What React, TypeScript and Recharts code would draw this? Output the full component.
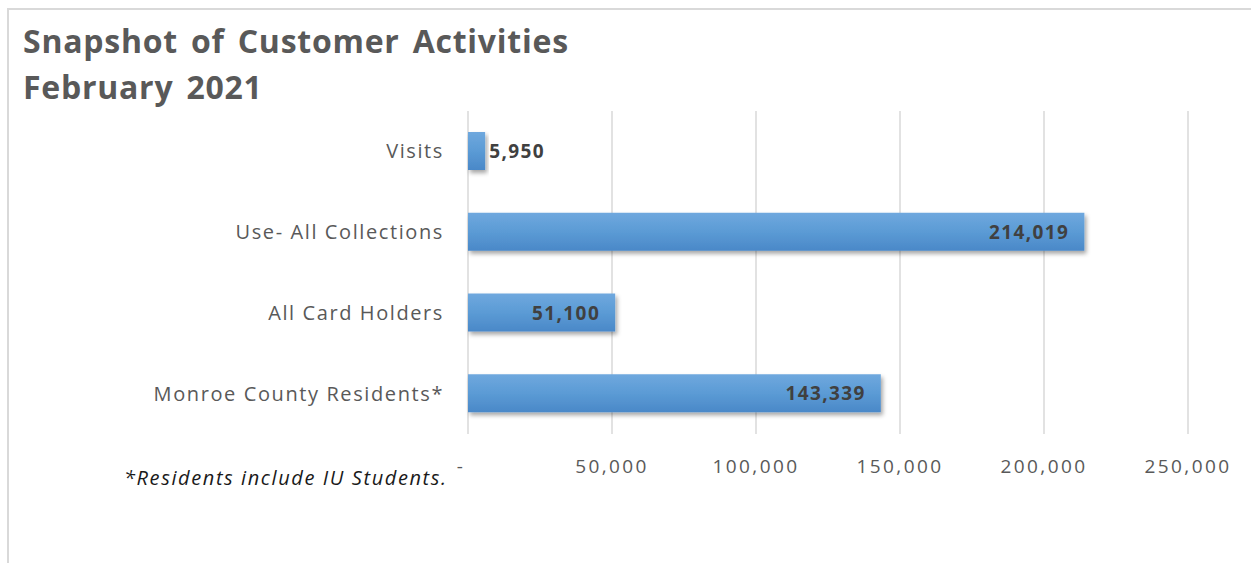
import React from 'react';
import { BarChart, Bar, XAxis, YAxis, CartesianGrid, LabelList } from 'recharts';

const categories = ['Visits', 'Use- All Collections ', 'All Card Holders', 'Monroe County Residents*'];
const values = [5950, 214019, 51100, 143339];
const xTicks = [0, 50000, 100000, 150000, 200000, 250000];

const data = categories.map((c, i) => ({ name: c, value: values[i] }));

const FONT = '"Open Sans", Calibri, sans-serif';
const GREY = '#595959';

const fmt = (v: number) => v.toLocaleString('en-US');

const XTick = (props: any) => {
  const { x, y, payload } = props;
  const v = payload.value as number;
  return (
    <text
      x={v === 0 ? x - 7 : x}
      y={y + 31}
      textAnchor="middle"
      fill={GREY}
      fontSize={19}
      fontFamily={FONT}
      letterSpacing={2.4}
    >
      {v === 0 ? '-' : fmt(v)}
    </text>
  );
};

const YTick = (props: any) => {
  const { x, y, payload } = props;
  return (
    <text
      x={x}
      y={y + 7}
      textAnchor="end"
      fill={GREY}
      fontSize={20}
      fontFamily={FONT}
      letterSpacing={1.6}
    >
      {payload.value}
    </text>
  );
};

const ValueLabel = (props: any) => {
  const { x, y, width, height, value } = props;
  const small = value < 20000;
  return (
    <text
      x={small ? x + width + 4 : x + width - 15}
      y={y + height / 2 + 7}
      textAnchor={small ? 'start' : 'end'}
      fill="#404040"
      fontSize={19}
      fontWeight="bold"
      fontFamily={FONT}
      letterSpacing={1.4}
    >
      {fmt(value)}
    </text>
  );
};

export default function App() {
  return (
    <div style={{ position: 'relative', width: 1251, height: 563, background: '#fff', overflow: 'hidden' }}>
      <style>{'body{margin:0;}'}</style>
      <div style={{ position: 'absolute', left: 7, top: 8, width: 1244, height: 2, background: '#D9D9D9' }} />
      <div style={{ position: 'absolute', left: 7, top: 8, width: 2, height: 555, background: '#D9D9D9' }} />
      <div
        style={{
          position: 'absolute',
          left: 23,
          top: 18,
          fontFamily: FONT,
          fontWeight: 700,
          fontSize: 32,
          lineHeight: '46px',
          color: GREY,
          whiteSpace: 'nowrap',
          letterSpacing: 0.75,
          wordSpacing: 4,
        }}
      >
        Snapshot of Customer Activities
        <br />
        February 2021
      </div>
      <div
        style={{
          position: 'absolute',
          left: 124,
          top: 464,
          fontFamily: FONT,
          fontStyle: 'italic',
          fontSize: 20,
          color: '#1a1a1a',
          whiteSpace: 'nowrap',
          letterSpacing: 1.6,
        }}
      >
        *Residents include IU Students.
      </div>
      <div style={{ position: 'absolute', left: 0, top: 0 }}>
        <BarChart
          width={1251}
          height={563}
          data={data}
          layout="vertical"
          margin={{ top: 111, right: 63, bottom: 99, left: 0 }}
          barSize={38}
        >
          <defs>
            <linearGradient id="barGrad" x1="0" y1="0" x2="0" y2="1">
              <stop offset="0%" stopColor="#6FA8DE" />
              <stop offset="50%" stopColor="#5B9BD5" />
              <stop offset="100%" stopColor="#4A88C8" />
            </linearGradient>
            <filter id="shadow" x="-10%" y="-20%" width="130%" height="160%">
              <feDropShadow dx="2" dy="3" stdDeviation="2" floodColor="#000" floodOpacity="0.35" />
            </filter>
          </defs>
          <CartesianGrid horizontal={false} stroke="#D9D9D9" strokeWidth={1.5} />
          <XAxis
            type="number"
            domain={[0, 250000]}
            ticks={xTicks}
            axisLine={false}
            tickLine={false}
            tick={<XTick />}
            height={30}
            interval={0}
          />
          <YAxis
            type="category"
            dataKey="name"
            width={468}
            axisLine={false}
            tickLine={false}
            tick={<YTick />}
            tickMargin={18}
            interval={0}
          />
          <Bar dataKey="value" fill="url(#barGrad)" filter="url(#shadow)" isAnimationActive={false}>
            <LabelList dataKey="value" content={<ValueLabel />} />
          </Bar>
        </BarChart>
      </div>
    </div>
  );
}
